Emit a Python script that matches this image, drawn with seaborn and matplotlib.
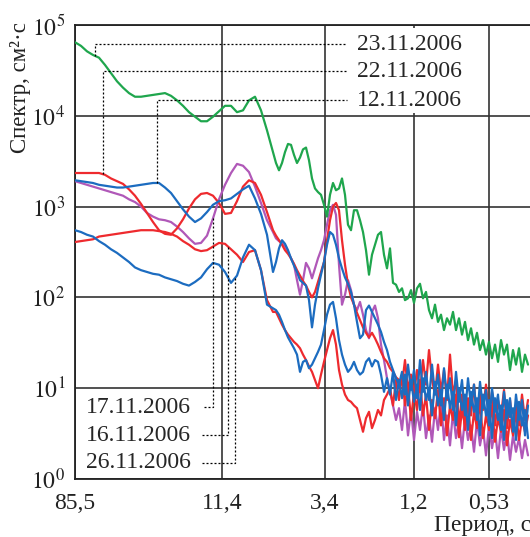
import numpy as np
import matplotlib
matplotlib.use("Agg")
import matplotlib.pyplot as plt
from matplotlib.patches import Rectangle
import seaborn as sns

# positions along the (non-uniform) period axis; smooth part sampled coarser
x_smooth = np.arange(0, 199, 6)
x_noisy = np.arange(201, 454, 3)
x = np.concatenate([x_smooth, x_noisy])

tick_pos = [0, 147, 250, 339, 414]
tick_labels = ["85,5", "11,4", "3,4", "1,2", "0,53"]

# lg of spectrum (cm^2*s)
lg_23_11 = [4.81, 4.77, 4.71, 4.67, 4.64, 4.56, 4.47, 4.38, 4.31, 4.25,
            4.21, 4.21, 4.22, 4.23, 4.24, 4.25, 4.22, 4.17, 4.11, 4.04,
            3.99, 3.94, 3.94, 3.99, 4.05, 4.11, 4.11, 4.04, 4.06, 4.17,
            4.21, 4.06, 3.84, 3.60,
            3.48, 3.40, 3.48, 3.60, 3.69, 3.68, 3.57, 3.48, 3.54, 3.63,
            3.65, 3.51, 3.31, 3.20, 3.16, 3.13, 3.02, 2.89, 3.13, 3.26,
            3.18, 3.20, 3.31, 3.13, 2.80, 2.74, 2.96, 2.96, 2.85, 2.72,
            2.52, 2.25, 2.47, 2.58, 2.69, 2.72, 2.47, 2.32, 2.54, 2.16,
            2.14, 2.06, 2.10, 1.97, 1.99, 2.08, 1.94, 2.10, 2.15, 1.99,
            2.06, 1.86, 1.77, 1.92, 1.73, 1.81, 1.64, 1.77, 1.70, 1.84,
            1.64, 1.77, 1.59, 1.73, 1.53, 1.66, 1.48, 1.61, 1.42, 1.53,
            1.37, 1.51, 1.33, 1.48, 1.29, 1.53, 1.37, 1.48, 1.20, 1.42,
            1.26, 1.44, 1.18, 1.37, 1.26]

lg_22_11 = [3.37, 3.37, 3.37, 3.37, 3.37, 3.35, 3.31, 3.28, 3.25, 3.19,
            3.12, 3.03, 2.93, 2.83, 2.74, 2.70, 2.69, 2.76, 2.86, 2.98,
            3.08, 3.14, 3.15, 3.12, 3.04, 2.92, 2.93, 3.06, 3.22, 3.29,
            3.26, 3.13, 2.94, 2.74,
            2.68, 2.63, 2.58, 2.52, 2.48, 2.43, 2.37, 2.30, 2.24, 2.18,
            2.13, 2.06, 2.00, 2.06, 2.17, 2.28, 2.39, 2.63, 2.85, 3.00,
            3.04, 2.96, 2.63, 2.36, 2.14, 2.00, 1.92, 1.83, 1.75, 1.67,
            1.61, 1.56, 1.61, 1.55, 1.48, 1.40, 1.33, 1.29, 1.22, 1.18,
            1.12, 1.09, 1.04, 1.31, 0.98, 1.15, 0.93, 1.20, 0.96, 1.31,
            1.04, 1.42, 1.09, 0.93, 1.26, 0.96, 1.20, 0.87, 1.37, 0.93,
            1.09, 0.59, 0.93, 0.54, 0.89, 0.70, 1.04, 0.65, 0.93, 0.76,
            1.04, 0.67, 0.96, 0.59, 0.87, 0.70, 0.98, 0.56, 0.87, 0.52,
            0.81, 0.59, 0.93, 0.65, 0.87]

lg_17_11 = [3.28, 3.26, 3.24, 3.22, 3.20, 3.18, 3.16, 3.14, 3.12, 3.08,
            3.05, 3.00, 2.93, 2.89, 2.86, 2.85, 2.83, 2.78, 2.72, 2.65,
            2.59, 2.60, 2.68, 2.87, 3.08, 3.24, 3.37, 3.47, 3.45, 3.38,
            3.22, 3.04, 2.85, 2.72,
            2.65, 2.62, 2.60, 2.56, 2.50, 2.43, 2.36, 2.19, 2.03, 2.19,
            2.38, 2.32, 2.21, 2.32, 2.43, 2.52, 2.63, 2.80, 2.96, 3.02,
            2.91, 2.36, 1.92, 2.03, 2.19, 2.08, 1.92, 1.86, 1.95, 1.81,
            1.64, 1.55, 1.84, 1.91, 1.77, 1.48, 1.31, 1.11, 0.96, 0.81,
            0.65, 0.78, 0.54, 0.87, 0.48, 0.76, 0.43, 0.74, 0.54, 0.81,
            0.45, 0.70, 0.41, 0.78, 0.54, 0.85, 0.43, 0.70, 0.37, 0.74,
            0.45, 0.65, 0.34, 0.67, 0.43, 0.59, 0.30, 0.65, 0.37, 0.56,
            0.26, 0.59, 0.34, 0.54, 0.23, 0.56, 0.32, 0.52, 0.21, 0.48,
            0.30, 0.45, 0.23, 0.43, 0.26]

lg_12_11 = [3.29, 3.28, 3.27, 3.26, 3.24, 3.23, 3.22, 3.21, 3.21, 3.22,
            3.23, 3.24, 3.25, 3.26, 3.26, 3.21, 3.15, 3.06, 2.97, 2.89,
            2.83, 2.87, 2.94, 3.02, 3.06, 3.07, 3.09, 3.14, 3.19, 3.23,
            3.09, 2.92, 2.69, 2.28,
            2.39, 2.54, 2.63, 2.59, 2.52, 2.43, 2.35, 2.28, 2.19, 2.16,
            2.13, 1.97, 1.67, 1.92, 2.10, 2.25, 2.39, 2.58, 2.72, 2.69,
            2.58, 2.43, 2.32, 2.22, 2.15, 2.06, 1.92, 1.73, 1.55, 1.59,
            1.86, 1.91, 1.84, 1.77, 1.70, 1.62, 1.51, 1.42, 1.29, 1.20,
            1.11, 1.04, 1.18, 0.93, 1.26, 0.98, 1.20, 0.89, 1.31, 0.96,
            1.18, 0.87, 1.26, 0.93, 1.15, 0.81, 1.22, 0.89, 1.11, 0.76,
            1.18, 0.85, 1.09, 0.70, 1.11, 0.81, 1.04, 0.65, 1.07, 0.78,
            0.98, 0.59, 1.00, 0.74, 0.93, 0.54, 0.96, 0.67, 0.89, 0.52,
            0.93, 0.65, 0.87, 0.48, 0.81]

lg_26_11 = [2.74, 2.72, 2.69, 2.67, 2.62, 2.58, 2.53, 2.49, 2.44, 2.39,
            2.33, 2.30, 2.28, 2.26, 2.25, 2.22, 2.20, 2.18, 2.15, 2.13,
            2.17, 2.22, 2.31, 2.38, 2.36, 2.28, 2.16, 2.24, 2.44, 2.58,
            2.52, 2.30, 1.92, 1.88,
            1.86, 1.81, 1.73, 1.64, 1.56, 1.50, 1.44, 1.37, 1.18, 1.29,
            1.31, 1.22, 1.26, 1.33, 1.40, 1.48, 1.64, 1.81, 1.92, 1.95,
            1.77, 1.53, 1.37, 1.26, 1.18, 1.22, 1.29, 1.20, 1.15, 1.18,
            1.29, 1.33, 1.24, 1.31, 1.29, 1.15, 0.96, 1.11, 0.93, 1.18,
            0.87, 1.09, 0.89, 1.15, 0.81, 1.09, 0.85, 1.04, 0.76, 1.11,
            0.87, 1.00, 0.70, 1.07, 0.81, 0.98, 0.65, 1.04, 0.78, 0.96,
            0.59, 1.00, 0.76, 0.93, 0.54, 0.96, 0.74, 0.89, 0.48, 0.93,
            0.70, 0.87, 0.45, 0.89, 0.65, 0.81, 0.43, 0.87, 0.68, 0.78,
            0.43, 0.85, 0.59, 0.76, 0.45]

lg_16_11 = [2.61, 2.62, 2.63, 2.64, 2.67, 2.68, 2.69, 2.70, 2.71, 2.72,
            2.73, 2.74, 2.74, 2.74, 2.73, 2.72, 2.70, 2.67, 2.62, 2.58,
            2.53, 2.51, 2.52, 2.56, 2.60, 2.59, 2.53, 2.47, 2.39, 2.50,
            2.52, 2.30, 1.97, 1.84,
            1.84, 1.77, 1.70, 1.64, 1.59, 1.55, 1.51, 1.48, 1.44, 1.37,
            1.31, 1.24, 1.18, 1.09, 1.00, 1.15, 1.29, 1.42, 1.55, 1.64,
            1.48, 1.20, 1.04, 0.93, 0.87, 0.85, 0.81, 0.78, 0.65, 0.52,
            0.67, 0.74, 0.56, 0.65, 0.76, 0.70, 0.87, 0.93, 1.00, 0.81,
            1.09, 0.87, 1.15, 0.81, 1.04, 0.65, 0.96, 0.76, 1.09, 0.70,
            0.93, 0.54, 0.87, 0.67, 0.98, 0.59, 0.89, 0.48, 0.81, 0.65,
            0.93, 0.46, 0.76, 0.59, 0.87, 0.43, 0.74, 0.56, 0.85, 0.45,
            0.70, 0.54, 0.81, 0.41, 0.67, 0.52, 0.76, 0.37, 0.65, 0.48,
            0.74, 0.43, 0.67, 0.52, 0.70]

green = "#1fa64d"
red = "#ee2a2e"
blue = "#1c6cc0"
purple = "#b058b8"

sns.set_theme(style="white")
plt.rcParams["font.family"] = ["Liberation Serif", "DejaVu Serif"]
plt.rcParams["mathtext.fontset"] = "stix"

fig = plt.figure(figsize=(5.30, 5.37), dpi=100)
ax = fig.add_axes([75 / 530, 58 / 537, 455 / 530, 454 / 537])

# draw order: purple, reds, blues, green
series = [(lg_17_11, purple), (lg_22_11, red), (lg_16_11, red),
          (lg_12_11, blue), (lg_26_11, blue), (lg_23_11, green)]
for vals, col in series:
    sns.lineplot(x=x, y=10 ** np.array(vals), ax=ax, color=col,
                 linewidth=1.6, zorder=3)

ax.set_yscale("log")
ax.set_ylim(1, 1e5)
ax.set_xlim(0, 455)
ax.yaxis.set_minor_locator(matplotlib.ticker.NullLocator())
ax.set_yticks([10.0 ** k for k in range(6)])
ax.set_yticklabels([r"$10^{%d}$" % k for k in range(6)], fontsize=17)
ax.set_xticks(tick_pos)
ax.set_xticklabels(tick_labels, fontsize=17)
ax.tick_params(length=0, colors="#222222")
ax.tick_params(axis="x", pad=10)
ax.tick_params(axis="y", pad=7)
ax.set_xlabel("")
ax.set_ylabel("")
ax.grid(True, color="#333333", linewidth=1.2)
ax.set_axisbelow(True)
for s in ["left", "bottom", "top"]:
    ax.spines[s].set_color("#222222")
    ax.spines[s].set_linewidth(1.3)
ax.spines["right"].set_visible(False)

# white block behind the upper date labels (hides the grid there)
ax.add_patch(Rectangle((277, 10 ** 4.03), 113, 10 ** 4.97 - 10 ** 4.03,
                       facecolor="white", edgecolor="none", zorder=4.5))

# dotted leaders from curves to the date labels
dot = dict(color="black", linewidth=0.9, linestyle=(0, (1.6, 1.6)), zorder=4)
top_labels = [("23.11.2006", lg_23_11, 20, 4.79),
              ("22.11.2006", lg_22_11, 28, 4.49),
              ("12.11.2006", lg_12_11, 82, 4.17)]
for txt, vals, xp, lev in top_labels:
    y0 = 10 ** np.interp(xp, x, vals)
    ax.plot([xp, xp, 272], [y0, 10 ** lev, 10 ** lev], **dot)
    ax.text(282, 10 ** lev, txt, fontsize=17, ha="left", va="center", zorder=5)

bottom_labels = [("17.11.2006", lg_17_11, 138, 0.79),
                 ("16.11.2006", lg_16_11, 153, 0.48),
                 ("26.11.2006", lg_26_11, 160, 0.18)]
for txt, vals, xp, lev in bottom_labels:
    y0 = 10 ** np.interp(xp, x, vals)
    ax.plot([xp, xp, 127], [y0, 10 ** lev, 10 ** lev], **dot)
    ax.text(116, 10 ** lev, txt, fontsize=17, ha="right", va="center", zorder=5)

fig.text(21 / 530, 1 - 88 / 537, "Спектр, см²·с", rotation=90,
         ha="center", va="center", fontsize=16.5, color="#222222")
fig.text(531 / 530, 1 / 537, "Период, с", ha="right", va="bottom",
         fontsize=17, color="#222222")

fig.savefig("out.png", dpi=100)
